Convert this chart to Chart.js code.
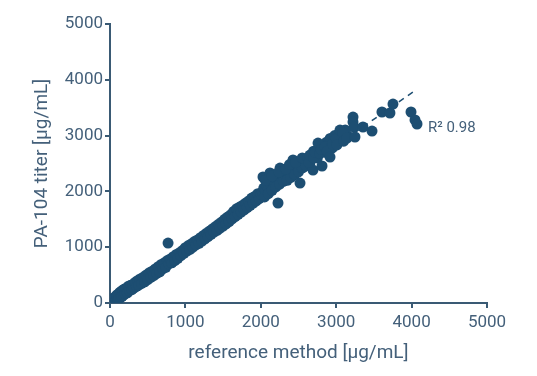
<!DOCTYPE html>
<html>
<head>
<meta charset="utf-8">
<script src="https://cdn.jsdelivr.net/npm/chart.js@4/dist/chart.umd.min.js"></script>
<style>
  html, body { margin: 0; padding: 0; background: #fff; }
  #wrap { width: 537px; height: 376px; }
</style>
</head>
<body>
<div id="wrap"><canvas id="myChart" width="537" height="376"></canvas></div>
<script>
// reference method values [µg/mL]
const refX = [
  10, 15, 20, 25, 30, 35, 40, 50, 60, 70, 80, 90, 100, 110, 120, 130, 140, 150, 160, 170,
  180, 190, 200, 215, 230, 245, 260, 275, 290, 300,
  320, 335, 350, 365, 380, 400, 420, 440, 460, 480, 500, 520, 540, 560, 580, 600, 620, 640,
  660, 680, 700, 720, 740, 760, 780, 770,
  800, 820, 840, 860, 880, 900, 920, 940, 960, 980, 1000, 1020, 1040, 1060, 1080, 1100, 1120,
  1140, 1160, 1180, 1200, 1220, 1240, 1260, 1280, 1300, 1320, 1340, 1360, 1380,
  1400, 1420, 1440, 1460, 1480, 1500, 1520, 1540, 1560, 1580, 1600, 1620, 1640, 1660, 1680,
  1700, 1720, 1740, 1760, 1780, 1800, 1820, 1840, 1860, 1880, 1900, 1920, 1940, 1960, 1980,
  2000, 2020, 2029, 2040, 2060, 2080, 2100, 2122, 2140, 2160, 2180, 2200, 2220, 2240, 2255,
  2280, 2300, 2320, 2350, 2380, 2400, 2427, 2450, 2480, 2500, 2530, 2560, 2600,
  2050, 2100, 2150, 2200, 2250, 2300, 2350, 2400, 2450, 2500, 2550, 2600, 2650, 2750, 2850,
  2950, 3050, 3150,
  2060, 2150, 2240, 2330, 2380, 2460, 2550, 2620, 2700, 2800, 2870, 2920, 2980, 3050, 3120,
  2228, 2520, 2692, 2812,
  2640, 2652, 2700, 2720, 2759, 2780, 2800, 2850, 2880, 2918, 2950, 3000, 3010, 3050, 3090,
  3100, 3143, 3223, 3223, 3236, 3249, 3355, 3475, 3607, 3713, 3753, 3992, 4045, 4072
];
// PA-104 titer values [µg/mL]
const titerY = [
  0, 20, 10, 5, 50, 25, 0, 80, 20, 110, 40, 140, 60, 160, 80, 190, 100, 210, 120, 230,
  140, 250, 170, 260, 180, 300, 220, 320, 240, 330,
  270, 370, 300, 400, 320, 430, 350, 460, 380, 500, 420, 540, 460, 570, 490, 610, 530, 650,
  560, 690, 610, 720, 640, 760, 700, 1075,
  790, 720, 830, 760, 870, 800, 900, 850, 940, 890, 990, 930, 1030, 960, 1060, 1000, 1100,
  1040, 1130, 1070, 1170, 1110, 1210, 1150, 1250, 1190, 1290, 1230, 1330, 1270,
  1370, 1300, 1410, 1340, 1450, 1380, 1500, 1420, 1540, 1460, 1580, 1510, 1640, 1550, 1690,
  1590, 1720, 1630, 1750, 1670, 1790, 1710, 1830, 1750, 1880, 1790, 1910, 1830, 1960, 1870,
  1950, 1990, 2258, 2060, 2010, 2100, 2050, 2330, 2100, 2200, 2120, 2230, 2180, 2260, 2419,
  2300, 2240, 2310, 2250, 2350, 2300, 2563, 2380, 2450, 2400, 2480, 2430, 2550,
  1900, 1960, 2020, 2080, 2130, 2180, 2200, 2250, 2300, 2350, 2420, 2460, 2500, 2600, 2700,
  2780, 2900, 3000,
  2200, 2280, 2350, 2400, 2480, 2520, 2600, 2600, 2720, 2800, 2880, 2950, 3000, 2980, 3100,
  1792, 2150, 2383, 2455,
  2520, 2652, 2600, 2700, 2867, 2680, 2750, 2800, 2720, 2616, 2850, 2950, 2832, 3100, 3047,
  2900, 2957, 3333, 3244, 3154, 2975, 3154, 3082, 3423, 3405, 3566, 3423, 3280, 3208
];
// regression line (dashed)
const fitX = [0, 4060];
const fitY = [0, 3820];
// axis ticks
const tickValues = [0, 1000, 2000, 3000, 4000, 5000];
const r2Text = 'R² 0.98';
const r2Pos = [4230, 3130];

const axisColor = '#3a5a74';
const textColor = '#44607a';
const dotColor = '#1d4e72';

const points = refX.map((x, i) => ({ x: x, y: titerY[i] }));
const fitLine = fitX.map((x, i) => ({ x: x, y: fitY[i] }));

const r2Plugin = {
  id: 'r2Label',
  afterDatasetsDraw(chart) {
    const ctx = chart.ctx;
    const px = chart.scales.x.getPixelForValue(r2Pos[0]);
    const py = chart.scales.y.getPixelForValue(r2Pos[1]);
    ctx.save();
    ctx.font = '15px Roboto';
    ctx.fillStyle = textColor;
    ctx.textBaseline = 'middle';
    ctx.fillText(r2Text, px - 1, py);
    ctx.restore();
  }
};

const ctx = document.getElementById('myChart').getContext('2d');
const myChart = new Chart(ctx, {
  type: 'scatter',
  data: {
    datasets: [
      {
        type: 'line',
        data: fitLine,
        borderColor: dotColor,
        borderWidth: 1.5,
        borderDash: [6, 5],
        pointRadius: 0,
        fill: false,
        order: 2
      },
      {
        data: points,
        backgroundColor: dotColor,
        borderColor: dotColor,
        borderWidth: 0,
        pointRadius: 5.5,
        order: 1
      }
    ]
  },
  options: {
    responsive: false,
    animation: false,
    layout: { padding: { top: 24, right: 50, left: 0, bottom: 11 } },
    plugins: {
      legend: { display: false },
      tooltip: { enabled: false }
    },
    scales: {
      x: {
        type: 'linear',
        min: 0,
        max: 5000,
        afterBuildTicks: (scale) => { scale.ticks = tickValues.map(v => ({ value: v })); },
        afterFit: (scale) => { scale.height = 62; },
        grid: { drawOnChartArea: false, drawTicks: true, tickLength: 5, color: axisColor, lineWidth: 2 },
        border: { color: axisColor, width: 2 },
        ticks: { color: textColor, font: { family: 'Roboto', size: 17 }, padding: 5, callback: (v) => String(v) },
        title: {
          display: true,
          text: 'reference method [µg/mL]',
          color: textColor,
          font: { family: 'Roboto', size: 19 },
          padding: { top: 0, bottom: 0 }
        }
      },
      y: {
        type: 'linear',
        min: 0,
        max: 5000,
        afterBuildTicks: (scale) => { scale.ticks = tickValues.map(v => ({ value: v })); },
        afterFit: (scale) => { scale.width = 110; },
        grid: { drawOnChartArea: false, drawTicks: true, tickLength: 5, color: axisColor, lineWidth: 2 },
        border: { color: axisColor, width: 2 },
        ticks: { color: textColor, font: { family: 'Roboto', size: 17 }, padding: 2, callback: (v) => String(v) },
        title: {
          display: true,
          text: 'PA-104 titer [µg/mL]',
          color: textColor,
          font: { family: 'Roboto', size: 19 },
          padding: { top: 31, bottom: 0 }
        }
      }
    }
  },
  plugins: [r2Plugin]
});
</script>
</body>
</html>
